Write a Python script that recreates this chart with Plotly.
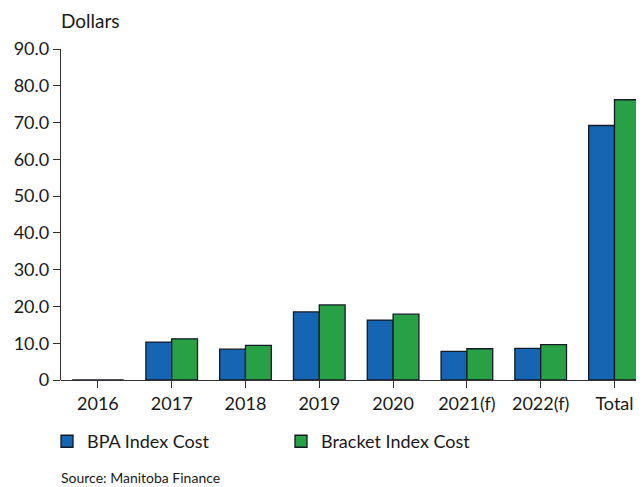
import plotly.graph_objects as go

categories = ["2016", "2017", "2018", "2019", "2020", "2021(f)", "2022(f)", "Total"]
bpa_index_cost = [0.0, 10.3, 8.4, 18.5, 16.3, 7.8, 8.6, 69.2]
bracket_index_cost = [0.0, 11.2, 9.4, 20.4, 17.9, 8.5, 9.6, 76.2]
y_tick_vals = [0, 10, 20, 30, 40, 50, 60, 70, 80, 90]
y_tick_text = ["0", "10.0", "20.0", "30.0", "40.0", "50.0", "60.0", "70.0", "80.0", "90.0"]

FONT = "Lato"
BLUE = "#1565B2"
GREEN = "#27A046"

fig = go.Figure()
fig.add_trace(go.Bar(
    x=categories, y=bpa_index_cost, name="BPA Index Cost",
    marker=dict(color=BLUE, line=dict(color="#141a24", width=1.3)),
))
fig.add_trace(go.Bar(
    x=categories, y=bracket_index_cost, name="Bracket Index Cost",
    marker=dict(color=GREEN, line=dict(color="#141a24", width=1.3)),
))

fig.update_layout(
    width=636, height=479,
    margin=dict(l=53, r=0, t=41, b=107, autoexpand=False),
    paper_bgcolor="white", plot_bgcolor="white",
    barmode="group", bargap=0.3, bargroupgap=0,
    font=dict(family=FONT, size=18, color="#1a1a1a"),
    showlegend=True,
    legend=dict(orientation="h", x=-0.024, xanchor="left", y=-0.13, yanchor="top",
                font=dict(size=18), itemwidth=30, traceorder="normal",
                entrywidthmode="pixels", entrywidth=189),
    xaxis=dict(
        type="category", range=[-0.5, 7.4], automargin=False,
        showline=False, showgrid=False, zeroline=False,
        ticks="outside", ticklen=7, tickcolor="#333", tickwidth=1.3,
        tickfont=dict(size=18),
    ),
    yaxis=dict(
        range=[0, 90], tickvals=y_tick_vals, ticktext=y_tick_text, automargin=False,
        showline=True, linecolor="#333", linewidth=1.3,
        showgrid=False, zeroline=True, zerolinecolor="#333", zerolinewidth=1.3,
        ticks="outside", ticklen=7, tickcolor="#333", tickwidth=1.3,
        tickfont=dict(size=18),
    ),
    annotations=[
        dict(text="Dollars", xref="paper", yref="paper", x=-0.004, y=1.0,
             xanchor="left", yanchor="bottom", yshift=15, showarrow=False,
             font=dict(size=19)),
        dict(text="Source: Manitoba Finance", xref="paper", yref="paper", x=-0.004, y=0,
             xanchor="left", yanchor="middle", yshift=-97, showarrow=False,
             font=dict(size=14)),
    ],
)

fig.write_html("out.html")
